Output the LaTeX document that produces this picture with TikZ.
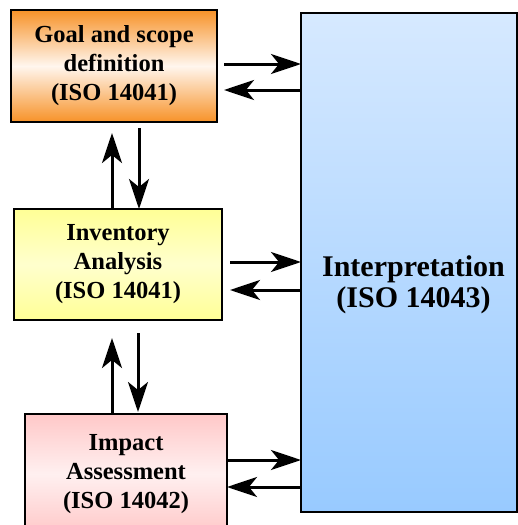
\documentclass[tikz,border=0pt]{standalone}
\usepackage{fontspec}
\setmainfont{Liberation Serif}
\usetikzlibrary{arrows.meta}

\definecolor{goalorange}{RGB}{247,146,40}
\definecolor{goalmid}{RGB}{255,246,238}
\definecolor{invyellow}{RGB}{255,255,150}
\definecolor{invmid}{RGB}{255,255,205}
\definecolor{imppink}{RGB}{255,200,200}
\definecolor{impmid}{RGB}{255,240,240}
\definecolor{interptop}{RGB}{214,233,255}
\definecolor{interpbot}{RGB}{152,202,255}

\tikzset{
  stagebox/.style={draw=black, line width=1.5pt, outer sep=0pt, inner sep=0pt,
    align=center, font=\fontsize{24.5}{29}\selectfont\bfseries},
  flow/.style={line width=3pt,
    -{Stealth[length=30pt 0 0,width=20pt 0,inset=8pt]}},
}

\begin{document}
\begin{tikzpicture}[x=1pt,y=-1pt]
  \useasboundingbox (0,0) rectangle (518,525);

  % interpretation stage on the right
  \node[stagebox, minimum width=216pt, minimum height=499pt,
        top color=interptop, bottom color=interpbot] (interp) at (409,262.5) {};
  \node[font=\fontsize{30}{31.5}\selectfont\bfseries, align=center] (interptext) at (413.5,285)
    {Interpretation\\(ISO 14043)};

  % the three stages on the left
  \node[stagebox, minimum width=206pt, minimum height=112pt,
        top color=goalorange, bottom color=goalorange, middle color=goalmid]
        (goal) at (114,66) {Goal and scope\\definition\\(ISO 14041)};
  \node[stagebox, minimum width=208pt, minimum height=111pt,
        top color=invyellow, bottom color=invyellow, middle color=invmid]
        (inv) at (118,264.5) {Inventory\\Analysis\\(ISO 14041)};
  \node[stagebox, minimum width=202pt, minimum height=120pt,
        top color=imppink, bottom color=imppink, middle color=impmid]
        (imp) at (126,474) {Impact\\Assessment\\(ISO 14042)};

  % exchanges with interpretation
  \draw[flow] ([xshift=7pt]goal.east |- 0,64) -- (interp.west |- 0,64);
  \draw[flow] (interp.west |- 0,90) -- ([xshift=7pt]goal.east |- 0,90);
  \draw[flow] ([xshift=8pt]inv.east |- 0,262) -- (interp.west |- 0,262);
  \draw[flow] (interp.west |- 0,290) -- ([xshift=8pt]inv.east |- 0,290);
  \draw[flow] (imp.east |- 0,460) -- (interp.west |- 0,460);
  \draw[flow] (interp.west |- 0,487) -- (imp.east |- 0,487);

  % exchanges between the stages
  \draw[flow] (inv.north -| 112,0) -- ([yshift=-11pt]goal.south -| 112,0);
  \draw[flow] ([yshift=-6pt]goal.south -| 139,0) -- (inv.north -| 139,0);
  \draw[flow] (imp.north -| 112,0) -- ([yshift=-18pt]inv.south -| 112,0);
  \draw[flow] ([yshift=-13pt]inv.south -| 138,0) -- ([yshift=2pt]imp.north -| 138,0);
\end{tikzpicture}
\end{document}
